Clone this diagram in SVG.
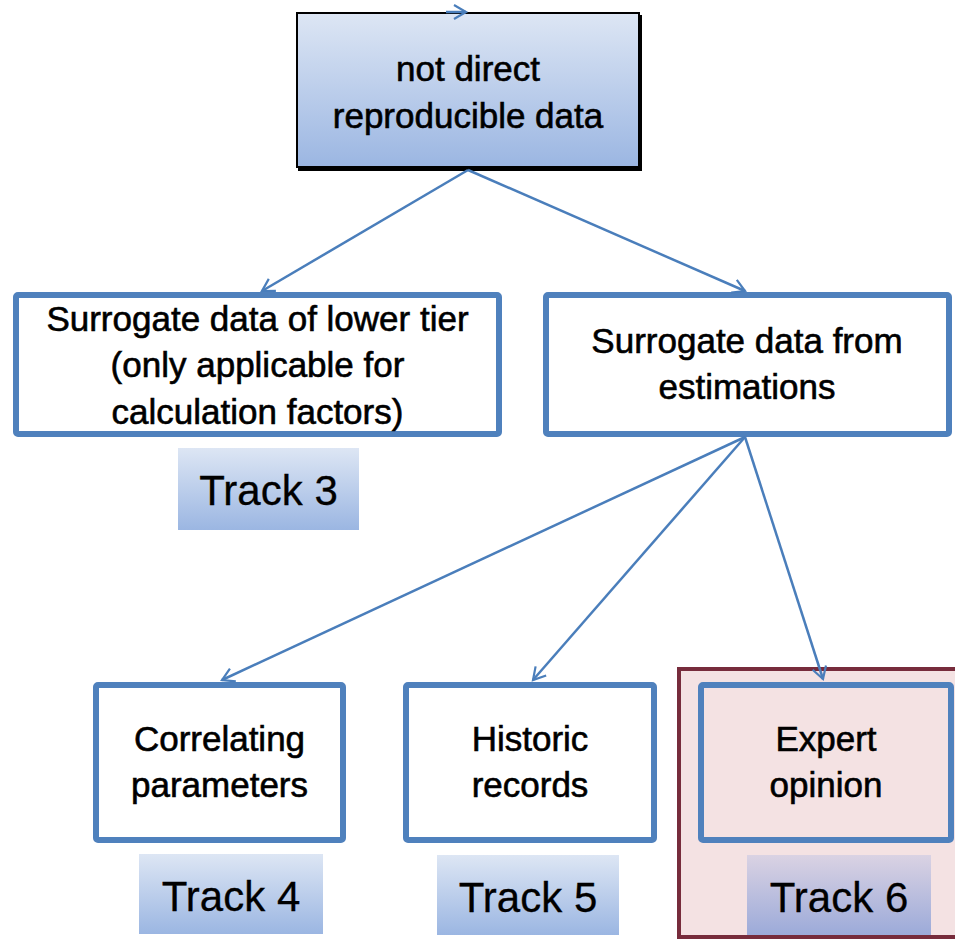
<svg xmlns="http://www.w3.org/2000/svg" width="955" height="940" viewBox="0 0 955 940">
<defs>
<linearGradient id="gBlue" x1="0" y1="0" x2="0" y2="1">
<stop offset="0" stop-color="#dde6f4"/>
<stop offset="1" stop-color="#9bb6e2"/>
</linearGradient>
<linearGradient id="gLav" x1="0" y1="0" x2="0" y2="1">
<stop offset="0" stop-color="#dad2e3"/>
<stop offset="1" stop-color="#9caad9"/>
</linearGradient>
<marker id="arr" markerUnits="userSpaceOnUse" markerWidth="20" markerHeight="20" refX="14" refY="8" orient="auto" viewBox="0 0 20 16">
<path d="M2,1 L14,8 L2,15" fill="none" stroke="#4a7ebb" stroke-width="2.2"/>
</marker>
<style>
.node{fill:#ffffff;stroke:#4f81bd;stroke-width:6}
.lbl{font-family:"Liberation Sans",Arial,sans-serif;font-size:35px;fill:#000;stroke:#000;stroke-width:0.6;text-anchor:middle}
.trk{fill:url(#gBlue)}
.tl{font-family:"Liberation Sans",Arial,sans-serif;font-size:42px;fill:#000;stroke:#000;stroke-width:0.3;text-anchor:middle}
.conn{fill:none;stroke:#4a7ebb;stroke-width:2.5;marker-end:url(#arr)}
</style>
</defs>
<rect width="955" height="940" fill="#ffffff"/>

<g id="track6-container">
<rect x="679" y="669" width="290" height="268" fill="#f4e2e3" stroke="#772c3c" stroke-width="4"/>
</g>

<g id="top">
<rect x="298" y="15" width="344" height="156" fill="#000"/>
<rect x="297" y="13" width="342" height="154" fill="url(#gBlue)" stroke="#000" stroke-width="2"/>
<text class="lbl" x="468" y="81">not direct</text>
<text class="lbl" x="468" y="128">reproducible data</text>
</g>

<g id="lowerTier">
<rect class="node" x="16" y="295" width="483" height="139" rx="2"/>
<text class="lbl" x="257.5" y="331">Surrogate data of lower tier</text>
<text class="lbl" x="257.5" y="377">(only applicable for</text>
<text class="lbl" x="257.5" y="424">calculation factors)</text>
</g>

<g id="track3">
<rect class="trk" x="178" y="448" width="181" height="82"/>
<text class="tl" x="268.5" y="505">Track 3</text>
</g>

<g id="estimations">
<rect class="node" x="546" y="295" width="403" height="139" rx="2"/>
<text class="lbl" x="747" y="353">Surrogate data from</text>
<text class="lbl" x="747" y="399">estimations</text>
</g>

<g id="correlating">
<rect class="node" x="96" y="685" width="247" height="155" rx="2"/>
<text class="lbl" x="219.5" y="751">Correlating</text>
<text class="lbl" x="219.5" y="797">parameters</text>
</g>

<g id="track4">
<rect class="trk" x="139" y="854" width="184" height="80"/>
<text class="tl" x="231" y="911">Track 4</text>
</g>

<g id="historic">
<rect class="node" x="406" y="685" width="248" height="155" rx="2"/>
<text class="lbl" x="530" y="751">Historic</text>
<text class="lbl" x="530" y="797">records</text>
</g>

<g id="track5">
<rect class="trk" x="437" y="855" width="182" height="80"/>
<text class="tl" x="528" y="912">Track 5</text>
</g>

<g id="expert">
<rect x="701" y="685" width="250" height="155" rx="2" fill="none" stroke="#4f81bd" stroke-width="6"/>
<text class="lbl" x="826" y="751">Expert</text>
<text class="lbl" x="826" y="797">opinion</text>
</g>

<g id="track6">
<rect x="747" y="855" width="184" height="80" fill="url(#gLav)"/>
<text class="tl" x="839" y="912">Track 6</text>
</g>

<g id="connectors">
<line class="conn" x1="446" y1="12" x2="466" y2="12"/>
<line class="conn" x1="468" y1="170" x2="262" y2="291"/>
<line class="conn" x1="468" y1="170" x2="745" y2="291"/>
<line class="conn" x1="745" y1="437" x2="222" y2="680"/>
<line class="conn" x1="745" y1="437" x2="533" y2="680"/>
<line class="conn" x1="745" y1="437" x2="823" y2="679"/>
</g>
</svg>
